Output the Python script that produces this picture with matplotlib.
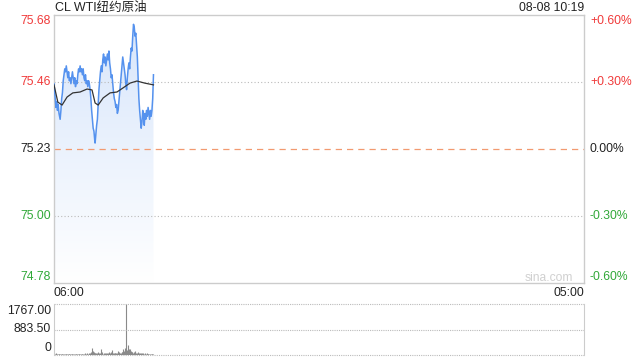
import numpy as np
import matplotlib
matplotlib.use("Agg")
import matplotlib.pyplot as plt
import matplotlib.transforms as mtransforms
from matplotlib.colors import LinearSegmentedColormap

plt.rcParams['font.family'] = ['Liberation Sans', 'Noto Sans CJK SC', 'DejaVu Sans']
plt.rcParams['font.size'] = 8.7

TITLE = "CL WTI纽约原油"
STAMP = "08-08 10:19"
BASE_PRICE = 75.23
TIME_LABELS = ["06:00", "05:00"]
SESSION_MINUTES = 1380

# minutes after 06:00, last price
price_minutes = [0, 3, 5, 7, 9, 11, 13, 16, 18, 20, 22, 24, 26, 28, 30, 32, 34, 36, 38, 40,
                 42, 44, 46, 48, 50, 52, 54, 56, 58, 60, 62, 64, 66, 68, 70, 72, 74, 76, 78, 80,
                 82, 84, 86, 88, 90, 92, 94, 96, 98, 100, 102, 104, 106, 107, 109, 111, 113, 115,
                 117, 119, 121, 123, 125, 127, 129, 131, 133, 135, 137, 139, 141, 143, 145, 147,
                 149, 151, 153, 155, 157, 159, 161, 163, 165, 167, 169, 171, 173, 175, 177, 179,
                 181, 183, 185, 187, 189, 191, 193, 195, 197, 199, 201, 203, 205, 207, 209, 211,
                 213, 215, 217, 219, 221, 223, 225, 227, 229, 231, 233, 235, 237, 239, 241, 243,
                 245, 247, 249, 251, 253, 255, 257, 259]
prices = [75.45, 75.40, 75.37, 75.39, 75.36, 75.38, 75.35, 75.33, 75.36, 75.40, 75.42, 75.46,
          75.48, 75.50, 75.49, 75.51, 75.49, 75.47, 75.49, 75.46, 75.47, 75.45, 75.47, 75.49,
          75.47, 75.45, 75.47, 75.44, 75.46, 75.45, 75.48, 75.50, 75.49, 75.51, 75.49, 75.50,
          75.48, 75.50, 75.47, 75.46, 75.48, 75.45, 75.46, 75.44, 75.46, 75.45, 75.43, 75.40,
          75.36, 75.33, 75.30, 75.29, 75.26, 75.25, 75.28, 75.31, 75.33, 75.38, 75.43, 75.46,
          75.49, 75.51, 75.49, 75.53, 75.55, 75.52, 75.54, 75.51, 75.53, 75.55, 75.53, 75.56,
          75.52, 75.50, 75.47, 75.48, 75.45, 75.42, 75.40, 75.39, 75.37, 75.38, 75.35, 75.36,
          75.39, 75.42, 75.45, 75.48, 75.51, 75.54, 75.52, 75.50, 75.48, 75.45, 75.43, 75.47,
          75.50, 75.52, 75.50, 75.54, 75.57, 75.56, 75.61, 75.65, 75.64, 75.61, 75.62, 75.58,
          75.54, 75.47, 75.40, 75.36, 75.33, 75.30, 75.32, 75.36, 75.34, 75.31, 75.35, 75.33,
          75.36, 75.34, 75.37, 75.35, 75.33, 75.36, 75.34, 75.36, 75.40, 75.48]

# average price line
avg_minutes = [0, 10, 21, 34, 49, 68, 86, 99, 107, 115, 128, 146, 164, 180, 198, 216, 236, 259]
avg_prices = [75.446, 75.388, 75.378, 75.405, 75.419, 75.422, 75.432, 75.429, 75.385, 75.378,
              75.402, 75.419, 75.422, 75.436, 75.452, 75.459, 75.452, 75.446]

vol_minutes = list(range(0, 260, 2))
volumes = [60, 40, 55, 35, 45, 30, 50, 40, 35, 45, 30, 40, 50, 35, 30, 45, 40, 35, 30, 40,
           35, 45, 30, 40, 35, 30, 45, 40, 30, 35, 40, 45, 35, 30, 40, 35, 45, 30, 40, 50,
           60, 45, 40, 55, 45, 60, 50, 70, 90, 120, 250, 140, 90, 70, 60, 80, 70, 90, 60, 50,
           70, 210, 100, 60, 50, 70, 60, 50, 60, 80, 60, 70, 90, 60, 110, 70, 175, 80, 60, 70,
           60, 80, 70, 150, 90, 70, 80, 60, 90, 120, 210, 140, 160, 230, 1767, 170, 350, 200,
           120, 210, 130, 90, 100, 80, 120, 140, 90, 70, 80, 100, 60, 70, 80, 60, 50, 70, 60,
           50, 60, 50, 40, 60, 50, 40, 50, 45, 40, 50, 40, 35]

VOL_TICKS = [1767.00, 883.50, 0]

RED = "#f03a3a"
GREEN = "#30a838"
BLUE = "#5592ee"
BORDER = "#cccccc"

lo = BASE_PRICE * (1 - 0.006)
hi = BASE_PRICE * (1 + 0.006)

fig = plt.figure(figsize=(6.4, 3.6), dpi=100)
ax = fig.add_axes([54 / 640, 1 - 283 / 360, 530 / 640, 268 / 360])
axv = fig.add_axes([54 / 640, 1 - 355 / 360, 530 / 640, 51 / 360])

# gradient fill under the price line
grad = LinearSegmentedColormap.from_list("g", ["#ffffff", "#d8e6fb"])
img = ax.imshow(np.linspace(0, 1, 256).reshape(-1, 1), cmap=grad, aspect="auto",
                extent=[0, price_minutes[-1], lo, max(prices)], origin="lower", zorder=1)
poly = ax.fill_between(price_minutes, prices, lo, color="none", lw=0)
clip = poly.get_paths()[0]
img.set_clip_path(clip, ax.transData)

ax.plot(price_minutes, prices, color=BLUE, lw=1.1, zorder=3)
ax.plot(avg_minutes, avg_prices, color="#333333", lw=0.9, zorder=4)

for pct in (0.003, -0.003):
    ax.axhline(BASE_PRICE * (1 + pct), color="#bbbbbb", lw=0.8, ls=(0, (1, 2)), zorder=2)
ax.axhline(BASE_PRICE, color="#f29a70", lw=0.9, ls=(0, (5, 4)), zorder=2)

ax.set_xlim(0, SESSION_MINUTES)
ax.set_ylim(lo, hi)
ax.set_xticks([])
ax.set_yticks([])
for s in ax.spines.values():
    s.set_color(BORDER)
    s.set_linewidth(1)

# left price labels and right percent labels
left_tf = mtransforms.blended_transform_factory(fig.transFigure, ax.transData)
pcts = [0.006, 0.003, 0.0, -0.003, -0.006]
offsets = [-6, 0, 0, 0, 6]
for pct, off in zip(pcts, offsets):
    val = BASE_PRICE * (1 + pct)
    col = RED if pct > 0 else (GREEN if pct < 0 else "#222222")
    y = val
    ax.annotate(f"{val:.2f}", xy=(51 / 640, y), xycoords=left_tf, xytext=(0, off),
                textcoords="offset pixels", ha="right", va="center", color=col)
    ax.annotate(f"{pct * 100:+.2f}%" if pct != 0 else "0.00%", xy=(590 / 640, y), xycoords=left_tf,
                xytext=(0, off), textcoords="offset pixels", ha="left", va="center", color=col)

fig.text(55 / 640, 1 - 8 / 360, TITLE, ha="left", va="center", fontsize=9, color="#222222")
fig.text(584 / 640, 1 - 8 / 360, STAMP, ha="right", va="center", color="#222222")
fig.text(54 / 640, 1 - 293 / 360, TIME_LABELS[0], ha="left", va="center", color="#222222")
fig.text(584 / 640, 1 - 293 / 360, TIME_LABELS[1], ha="right", va="center", color="#222222")
fig.text(573 / 640, 1 - 278 / 360, "sina.com", ha="right", va="center", color="#d0d0d0")

# volume panel
axv.vlines(vol_minutes, 0, volumes, color="#8a8a8a", lw=0.8)
axv.set_xlim(0, SESSION_MINUTES)
axv.set_ylim(0, VOL_TICKS[0])
axv.set_xticks([])
axv.set_yticks([])
for side in ("left", "right"):
    axv.spines[side].set_color(BORDER)
axv.spines["top"].set_visible(False)
axv.spines["bottom"].set_visible(False)
for v in VOL_TICKS:
    axv.axhline(v, color="#bbbbbb", lw=0.8, ls=(0, (1, 1)), clip_on=False)
vol_tf = mtransforms.blended_transform_factory(fig.transFigure, axv.transData)
for v, off in zip(VOL_TICKS, [-7, 0, 7]):
    label = f"{v:.2f}" if v else "0"
    axv.annotate(label, xy=(51 / 640, v), xycoords=vol_tf, xytext=(0, off),
                 textcoords="offset pixels", ha="right", va="center", color="#222222")

fig.savefig("out.png", dpi=100)
